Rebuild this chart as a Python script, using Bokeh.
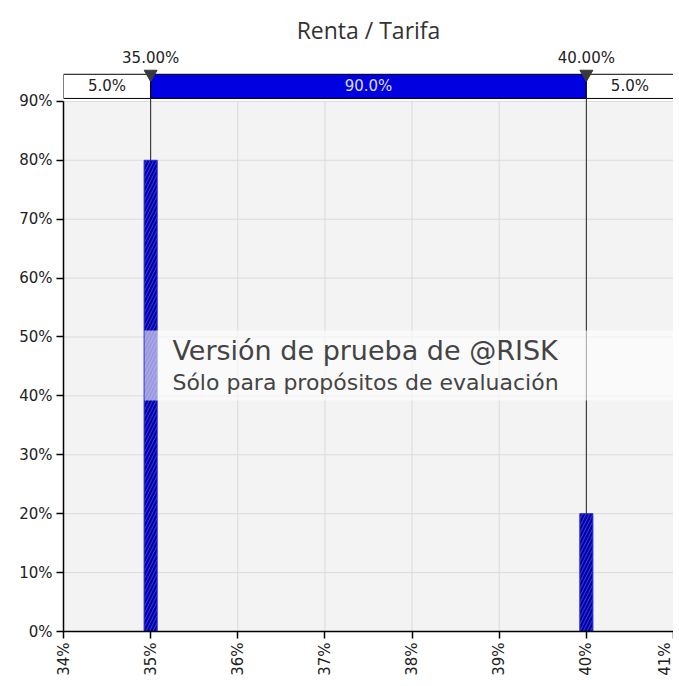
from math import pi
from bokeh.plotting import figure
from bokeh.models import FixedTicker, Range1d
from bokeh.core.properties import value
from bokeh.embed import file_html
from bokeh.resources import INLINE

# ---- data ----
chart_title = "Renta / Tarifa"
bin_centers = [35.0, 40.0]          # Renta / Tarifa (%)
probabilities = [80.0, 20.0]        # probability (%)
bin_width = 0.15
x_ticks = [34, 35, 36, 37, 38, 39, 40, 41]
x_tick_labels = ["34%", "35%", "36%", "37%", "38%", "39%", "40%", "41%"]
y_ticks = [0, 10, 20, 30, 40, 50, 60, 70, 80, 90]
y_tick_labels = ["0%", "10%", "20%", "30%", "40%", "50%", "60%", "70%", "80%", "90%"]
delimiters = [35.0, 40.0]
delimiter_labels = ["35.00%", "40.00%"]
region_labels = ["5.0%", "90.0%", "5.0%"]
watermark_1 = "Versión de prueba de @RISK"
watermark_2 = "Sólo para propósitos de evaluación"

FONT = "DejaVu Sans"
x_min, x_max = x_ticks[0], x_ticks[-1]
y_top = y_ticks[-1]

p = figure(width=673, height=686, output_backend="svg", toolbar_location=None,
           x_range=Range1d(x_min, x_max), y_range=Range1d(0, 98.64),
           min_border_left=63, min_border_right=0, min_border_top=50,
           min_border_bottom=55)
p.outline_line_color = None
p.background_fill_color = "white"
p.border_fill_color = "white"
p.xgrid.visible = False
p.ygrid.visible = False

p.title.text = chart_title
p.title.align = "center"
p.title.text_font = "Open Sans"
p.title.text_font_size = "23px"
p.title.text_font_style = "normal"
p.title.text_color = "#333333"

# plot area background + grid
p.quad(left=[x_min], right=[x_max], bottom=[0], top=[y_top],
       fill_color="#f3f3f3", line_color=None)
p.segment(x0=x_ticks, x1=x_ticks, y0=[0] * len(x_ticks), y1=[y_top] * len(x_ticks),
          line_color="#dadada", line_width=1)
p.segment(x0=[x_min] * len(y_ticks), x1=[x_max] * len(y_ticks), y0=y_ticks, y1=y_ticks,
          line_color="#dadada", line_width=1)

# delimiter lines
bar_bottom, bar_top = 90.5, 94.6
p.segment(x0=delimiters, x1=delimiters, y0=[0, 0], y1=[bar_top, bar_top],
          line_color="#222222", line_width=1)

# histogram bars
p.vbar(x=bin_centers, top=probabilities, bottom=0, width=bin_width,
       fill_color="#0000a8", line_color="#2a2ad8", line_width=1,
       hatch_pattern="right_diagonal_line", hatch_color="#7a7aff",
       hatch_alpha=0.5, hatch_scale=7, hatch_weight=1)

# watermark band
p.quad(left=[34.93], right=[x_max], bottom=[39.2], top=[51.1],
       fill_color="white", fill_alpha=0.6, line_color=None)
p.text(x=[35.25], y=[47.7], text=[watermark_1], text_font=value(FONT),
       text_font_size="27px", text_color="#444444", text_baseline="middle",
       text_align="left")
p.text(x=[35.25], y=[42.3], text=[watermark_2], text_font=value(FONT),
       text_font_size="22px", text_color="#444444", text_baseline="middle",
       text_align="left")

# delimiter bar
lefts = [x_min] + delimiters
rights = delimiters + [x_max]
p.quad(left=lefts, right=rights, bottom=[bar_bottom] * 3, top=[bar_top] * 3,
       fill_color=["white", "#0000e0", "white"], line_color="black", line_width=1)
centers = [(l + r) / 2 for l, r in zip(lefts, rights)]
p.text(x=centers, y=[(bar_bottom + bar_top) / 2] * 3, text=region_labels,
       text_font=value(FONT), text_font_size="15px",
       text_color=["#222222", "#dcdcff", "#222222"],
       text_baseline="middle", text_align="center")
p.scatter(x=delimiters, y=[94.65, 94.65], marker="inverted_triangle", size=13,
          fill_color="#3a3a3a", line_color="#3a3a3a")
p.text(x=delimiters, y=[97.3, 97.3], text=delimiter_labels, text_font=value(FONT),
       text_font_size="15px", text_color="#222222", text_baseline="middle",
       text_align="center")

# axes
p.xaxis.ticker = FixedTicker(ticks=x_ticks)
p.xaxis.major_label_overrides = dict(zip(x_ticks, x_tick_labels))
p.xaxis.major_label_orientation = pi / 2
p.yaxis.ticker = FixedTicker(ticks=y_ticks)
p.yaxis.major_label_overrides = dict(zip(y_ticks, y_tick_labels))
p.yaxis.bounds = (0, y_top)
for ax in (p.xaxis, p.yaxis):
    ax.axis_line_color = "black"
    ax.axis_line_width = 1.5
    ax.major_tick_line_color = "black"
    ax.major_tick_line_width = 1.5
    ax.major_tick_out = 7
    ax.major_tick_in = 0
    ax.minor_tick_line_color = None
    ax.major_label_text_font = FONT
    ax.major_label_text_font_size = "15px"
    ax.major_label_text_color = "#222222"
    ax.major_label_standoff = 4

open("out.html", "w").write(file_html(p, INLINE))
